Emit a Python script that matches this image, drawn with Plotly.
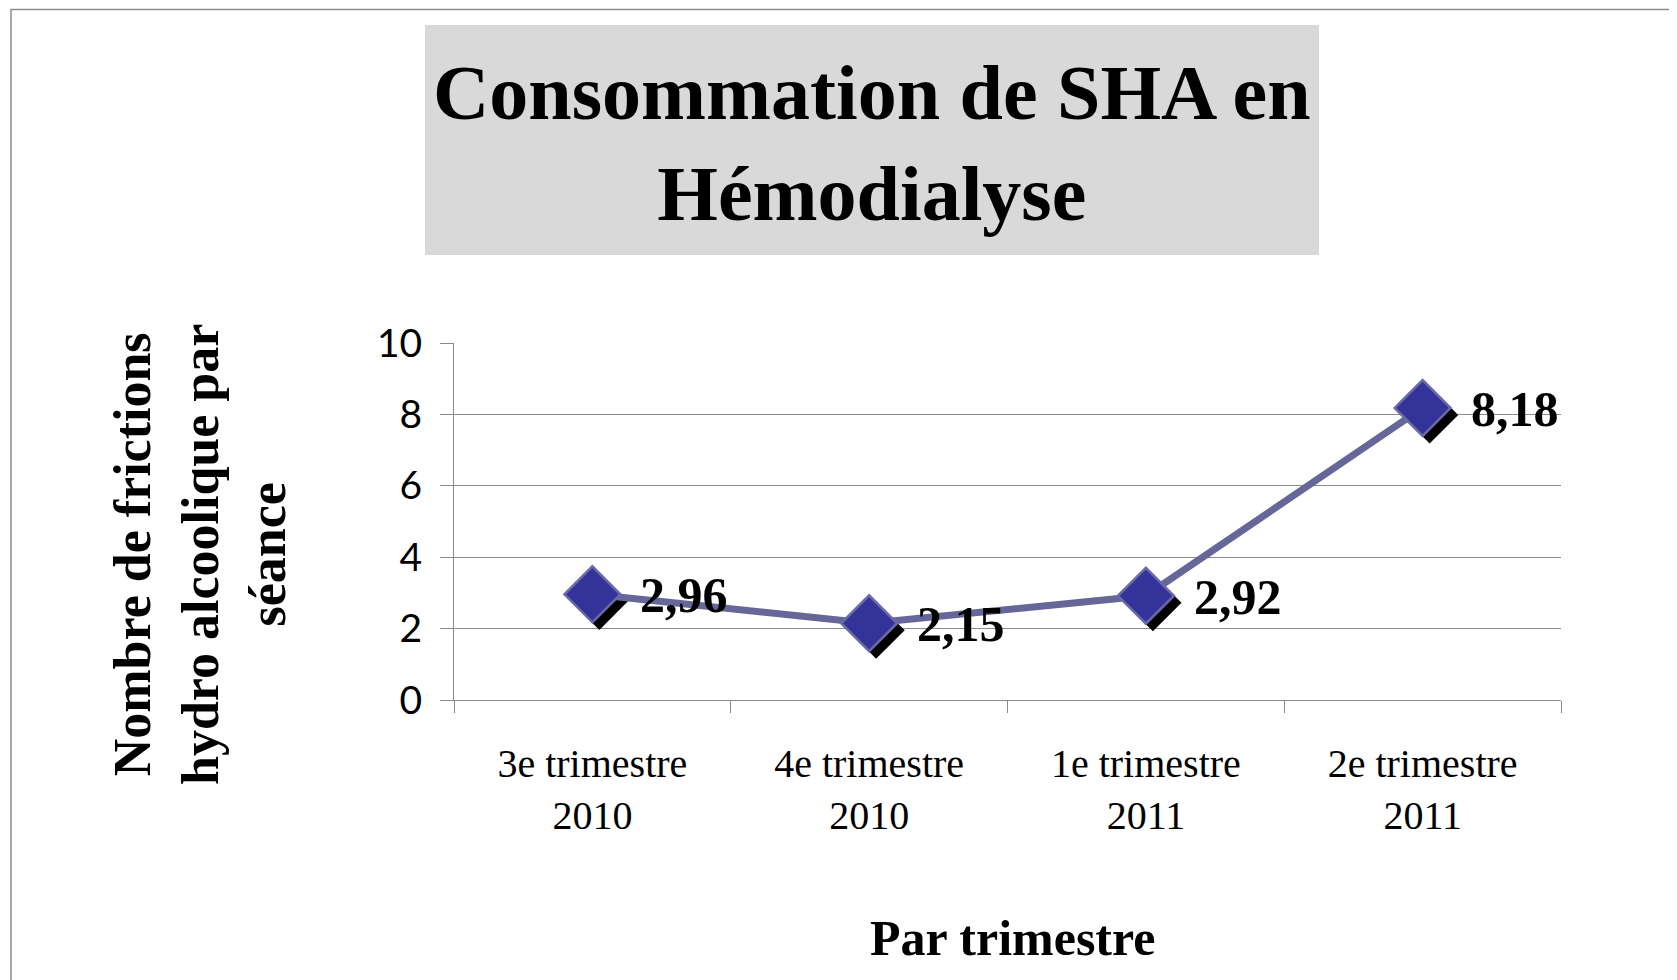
import plotly.graph_objects as go

# ---- data ----
categories = ["3e trimestre<br>2010", "4e trimestre<br>2010", "1e trimestre<br>2011", "2e trimestre<br>2011"]
values = [2.96, 2.15, 2.92, 8.18]
y_ticks = [0, 2, 4, 6, 8, 10]

title_text = "Consommation de SHA en<br>Hémodialyse"
y_title = "Nombre de frictions<br>hydro alcoolique par<br>séance"
x_title = "Par trimestre"

# ---- layout constants ----
W, H = 1677, 980
OFF = 8  # page body margin
ML, MR, MT, MB = 446, 124, 335, 288
PW, PH = W - ML - MR, H - MT - MB
XR = [-0.5, len(categories) - 0.5]
YR = [0, 10]

def px_x(X):
    return (X - OFF - ML) / PW

def px_y(Y):
    return (H - MB - (Y - OFF)) / PH

idx = list(range(len(categories)))
labels = [f"{v:.2f}".replace(".", ",") for v in values]

# shadow offset in pixels -> data units
sh_px = 7
dx = sh_px * (XR[1] - XR[0]) / PW
dy = sh_px * (YR[1] - YR[0]) / PH

serif = "Liberation Serif, Times New Roman, serif"

fig = go.Figure()
fig.add_trace(go.Scatter(
    x=[i + dx for i in idx], y=[v - dy for v in values], mode="markers",
    marker=dict(symbol="diamond", size=44, color="black", line=dict(width=0)),
    hoverinfo="skip", showlegend=False,
))
fig.add_trace(go.Scatter(
    x=idx, y=values, mode="lines+markers",
    line=dict(color="#666699", width=7),
    marker=dict(symbol="diamond", size=43, color="#333399", line=dict(color="#6a6aa8", width=2.5)),
    showlegend=False,
))

annotations = []
for i, v, t in zip(idx, values, labels):
    annotations.append(dict(x=i, y=v, xref="x", yref="y", text=f"<b>{t}</b>",
                            showarrow=False, xanchor="left", yanchor="middle", xshift=46, yshift=-1,
                            font=dict(family=serif, size=50, color="black")))

annotations.append(dict(x=px_x(872), y=px_y(143), xref="paper", yref="paper", text=f"<b>{title_text}</b>",
                        showarrow=False, xanchor="center", yanchor="middle",
                        font=dict(family=serif, size=78, color="black")))
annotations.append(dict(x=px_x(200), y=px_y(555), xref="paper", yref="paper", text=f"<b>{y_title}</b>",
                        showarrow=False, xanchor="center", yanchor="middle", textangle=-90,
                        font=dict(family=serif, size=52, color="black")))
annotations.append(dict(x=px_x(1013), y=px_y(938), xref="paper", yref="paper", text=f"<b>{x_title}</b>",
                        showarrow=False, xanchor="center", yanchor="middle",
                        font=dict(family=serif, size=50, color="black")))

shapes = [
    dict(type="rect", xref="paper", yref="paper", x0=px_x(425), x1=px_x(1319), y0=px_y(255), y1=px_y(25),
         fillcolor="#d9d9d9", line=dict(width=0), layer="below"),
    dict(type="rect", xref="paper", yref="paper", x0=px_x(11), x1=px_x(1700), y0=px_y(1000), y1=px_y(9.5),
         fillcolor="rgba(0,0,0,0)", line=dict(color="#8a8a8a", width=1.5), layer="below"),
]

fig.update_layout(
    width=W, height=H,
    margin=dict(l=ML, r=MR, t=MT, b=MB, pad=0),
    paper_bgcolor="white", plot_bgcolor="white",
    annotations=annotations, shapes=shapes,
    xaxis=dict(
        range=XR, tickmode="array", tickvals=idx, ticktext=categories,
        ticks="", showgrid=False, zeroline=False,
        showline=True, linecolor="#8a8a8a", linewidth=1,
        tickfont=dict(family=serif, size=40, color="black"),
        ticklabelstandoff=28,
        minor=dict(tickvals=[i - 0.5 for i in idx] + [idx[-1] + 0.5], ticks="outside",
                   ticklen=12, tickcolor="#8a8a8a", tickwidth=1, showgrid=False),
    ),
    yaxis=dict(
        range=YR, tickmode="array", tickvals=y_ticks,
        showgrid=True, gridcolor="#8a8a8a", gridwidth=1, zeroline=False,
        showline=True, linecolor="#8a8a8a", linewidth=1,
        ticks="outside", ticklen=13, tickcolor="#8a8a8a",
        tickfont=dict(family="Lato, Carlito, sans-serif", size=39, color="black"),
        ticklabelstandoff=10,
    ),
)

fig.write_html("out.html")
